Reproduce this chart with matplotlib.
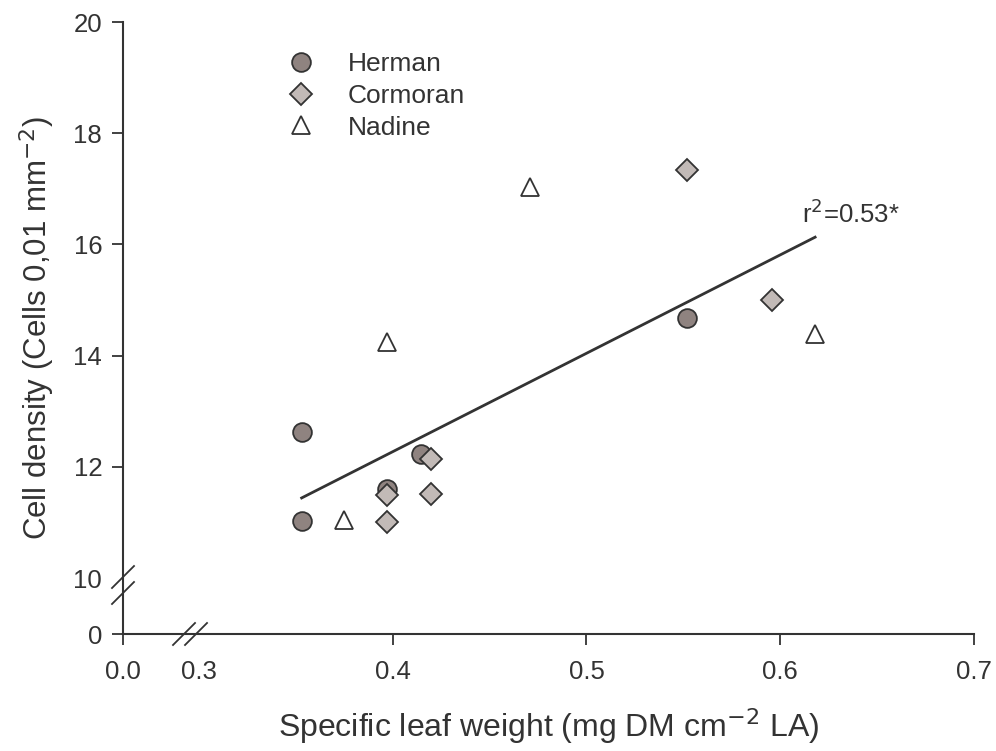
import numpy as np
import matplotlib.pyplot as plt

plt.rcParams['font.family'] = ['Liberation Sans', 'DejaVu Sans']

# data
herman_x = [0.353, 0.353, 0.397, 0.4145, 0.552]
herman_y = [12.63, 11.03, 11.60, 12.23, 14.68]

cormoran_x = [0.397, 0.420, 0.420, 0.397, 0.552, 0.596]
cormoran_y = [11.49, 12.14, 11.51, 11.00, 17.34, 15.00]

nadine_x = [0.375, 0.397, 0.471, 0.618]
nadine_y = [11.04, 14.24, 17.03, 14.39]

fit_x = [0.353, 0.618]
fit_y = [11.44, 16.13]

xticks = [0.0, 0.3, 0.4, 0.5, 0.6, 0.7]
yticks = [0, 10, 12, 14, 16, 18, 20]

DARK = '#333333'

# broken axes: compress 0-0.3 and 0-10
XK = 0.0392 / 0.3
YK = 0.1007


def xfwd(x):
    x = np.asarray(x, dtype=float)
    return np.where(x <= 0.3, x * XK, 0.0392 + (x - 0.3))


def xinv(u):
    u = np.asarray(u, dtype=float)
    return np.where(u <= 0.0392, u / XK, 0.3 + (u - 0.0392))


def yfwd(y):
    y = np.asarray(y, dtype=float)
    return np.where(y <= 10, y * YK, 10 * YK + (y - 10))


def yinv(v):
    v = np.asarray(v, dtype=float)
    return np.where(v <= 10 * YK, v / YK, 10 + (v - 10 * YK))


fig = plt.figure(figsize=(9.96, 7.51), dpi=100)
ax = fig.add_axes([123 / 996, 1 - 634 / 751, 851 / 996, 612 / 751])
ax.set_xscale('function', functions=(xfwd, xinv))
ax.set_yscale('function', functions=(yfwd, yinv))
ax.set_xlim(0, 0.7)
ax.set_ylim(0, 20)

ax.plot(fit_x, fit_y, color=DARK, lw=2, zorder=2)

ax.plot(herman_x, herman_y, 'o', ms=13.5, mfc='#8f8380', mec=DARK,
        mew=1.3, label='Herman', zorder=3)
ax.plot(cormoran_x, cormoran_y, 'D', ms=11, mfc='#c2bab7', mec=DARK,
        mew=1.3, label='Cormoran', zorder=4)
ax.plot(nadine_x, nadine_y, '^', ms=13, mfc='white', mec=DARK,
        mew=1.3, label='Nadine', zorder=4)

ax.text(0.611, 16.38, r'r$^2$=0.53*', fontsize=18.5, color=DARK,
        va='baseline', ha='left')

ax.set_xticks(xticks)
ax.set_xticklabels(['0.0', '0.3', '0.4', '0.5', '0.6', '0.7'])
ax.set_yticks(yticks)
ax.set_yticklabels([str(t) for t in yticks])
ax.tick_params(axis='both', labelsize=18.5, colors=DARK, length=8, width=1.3,
               direction='out')
ax.tick_params(axis='x', pad=11)
ax.tick_params(axis='y', pad=7)
ax.xaxis.get_major_ticks()[1].tick1line.set_visible(False)
ax.yaxis.get_major_ticks()[1].tick1line.set_visible(False)

for s in ['top', 'right']:
    ax.spines[s].set_visible(False)
for s in ['left', 'bottom']:
    ax.spines[s].set_color(DARK)
    ax.spines[s].set_linewidth(1.5)

# break marks
dx, dy = 11 / 851, 11 / 612
for cx in [0.0717, 0.0858]:
    ax.plot([cx - dx, cx + dx], [-dy, dy], transform=ax.transAxes,
            color=DARK, lw=1.3, clip_on=False)
for cy in [0.0931, 0.067]:
    ax.plot([-dx, dx], [cy - dy, cy + dy], transform=ax.transAxes,
            color=DARK, lw=1.3, clip_on=False)

ax.set_xlabel(r'Specific leaf weight (mg DM cm$^{-2}$ LA)', fontsize=23,
              color=DARK, labelpad=16)
ax.set_ylabel(r'Cell density (Cells 0,01 mm$^{-2}$)', fontsize=22.5,
              color=DARK, labelpad=12)

ax.legend(loc='upper left', bbox_to_anchor=(0.1505, 0.99), frameon=False,
          fontsize=19, handletextpad=0.75, labelspacing=0.3,
          labelcolor=DARK, numpoints=1)

fig.savefig('out.png', dpi=100)
